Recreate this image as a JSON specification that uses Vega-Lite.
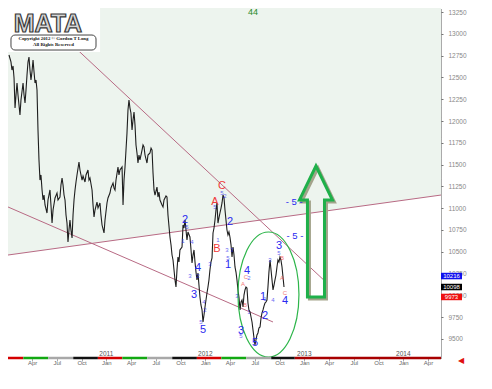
{
"$schema": "https://vega.github.io/schema/vega-lite/v6.json",
"width": 433, "height": 350,
"autosize": {"type": "none"},
"padding": {"left": 8, "top": 8, "right": 51, "bottom": 31},
"background": "#ffffff",
"config": {"view": {"stroke": null}, "font": "Liberation Sans"},
"resolve": {"scale": {"color": "independent", "stroke": "independent", "fill": "independent", "size": "independent", "opacity": "independent"}},
"datasets": {
"price": [
{"year":2010.017,"value":12757},{"year":2010.037,"value":12677},{"year":2010.047,"value":12585},{"year":2010.058,"value":12631},{"year":2010.068,"value":12493},{"year":2010.078,"value":12149},{"year":2010.088,"value":12298},{"year":2010.098,"value":12436},{"year":2010.108,"value":12298},{"year":2010.118,"value":12183},{"year":2010.128,"value":12069},{"year":2010.138,"value":12241},{"year":2010.148,"value":12333},{"year":2010.159,"value":12436},{"year":2010.169,"value":12298},{"year":2010.179,"value":12206},{"year":2010.189,"value":12356},{"year":2010.199,"value":12528},{"year":2010.209,"value":12677},{"year":2010.219,"value":12734},{"year":2010.229,"value":12585},{"year":2010.239,"value":12470},{"year":2010.249,"value":12562},{"year":2010.260,"value":12700},{"year":2010.270,"value":12562},{"year":2010.280,"value":12436},{"year":2010.290,"value":12470},{"year":2010.300,"value":12356},{"year":2010.310,"value":11897},{"year":2010.320,"value":11553},{"year":2010.330,"value":11323},{"year":2010.340,"value":11381},{"year":2010.351,"value":11209},{"year":2010.361,"value":11094},{"year":2010.371,"value":11151},{"year":2010.381,"value":11037},{"year":2010.401,"value":10945},{"year":2010.411,"value":11094},{"year":2010.431,"value":11209},{"year":2010.441,"value":11037},{"year":2010.452,"value":10830},{"year":2010.462,"value":10979},{"year":2010.482,"value":11117},{"year":2010.502,"value":11174},{"year":2010.512,"value":11094},{"year":2010.532,"value":11128},{"year":2010.542,"value":11266},{"year":2010.553,"value":11346},{"year":2010.563,"value":11266},{"year":2010.573,"value":11151},{"year":2010.583,"value":11094},{"year":2010.593,"value":10922},{"year":2010.603,"value":10830},{"year":2010.613,"value":10612},{"year":2010.623,"value":10750},{"year":2010.633,"value":10865},{"year":2010.643,"value":10750},{"year":2010.654,"value":10658},{"year":2010.664,"value":10922},{"year":2010.674,"value":11094},{"year":2010.684,"value":11209},{"year":2010.694,"value":11300},{"year":2010.704,"value":11381},{"year":2010.724,"value":11530},{"year":2010.734,"value":11438},{"year":2010.755,"value":11323},{"year":2010.765,"value":11369},{"year":2010.785,"value":11300},{"year":2010.795,"value":11381},{"year":2010.815,"value":11438},{"year":2010.825,"value":11323},{"year":2010.835,"value":11346},{"year":2010.856,"value":11209},{"year":2010.866,"value":11037},{"year":2010.876,"value":10899},{"year":2010.886,"value":10979},{"year":2010.906,"value":11071},{"year":2010.916,"value":11002},{"year":2010.936,"value":11060},{"year":2010.946,"value":10922},{"year":2010.957,"value":10807},{"year":2010.977,"value":10716},{"year":2010.987,"value":10865},{"year":2011.007,"value":11060},{"year":2011.017,"value":11117},{"year":2011.037,"value":11174},{"year":2011.047,"value":11232},{"year":2011.068,"value":11289},{"year":2011.078,"value":11232},{"year":2011.088,"value":11209},{"year":2011.098,"value":11323},{"year":2011.118,"value":11472},{"year":2011.128,"value":11381},{"year":2011.138,"value":11438},{"year":2011.159,"value":11472},{"year":2011.169,"value":11037},{"year":2011.179,"value":11323},{"year":2011.189,"value":11472},{"year":2011.199,"value":11667},{"year":2011.209,"value":11862},{"year":2011.219,"value":12126},{"year":2011.229,"value":12241},{"year":2011.239,"value":12149},{"year":2011.249,"value":12092},{"year":2011.260,"value":11897},{"year":2011.270,"value":12011},{"year":2011.280,"value":12103},{"year":2011.290,"value":11954},{"year":2011.300,"value":11725},{"year":2011.310,"value":11633},{"year":2011.320,"value":11518},{"year":2011.330,"value":11610},{"year":2011.340,"value":11553},{"year":2011.361,"value":11667},{"year":2011.371,"value":11725},{"year":2011.381,"value":11702},{"year":2011.391,"value":11610},{"year":2011.411,"value":11518},{"year":2011.421,"value":11610},{"year":2011.441,"value":11633},{"year":2011.452,"value":11690},{"year":2011.462,"value":11667},{"year":2011.472,"value":11404},{"year":2011.482,"value":11209},{"year":2011.492,"value":11151},{"year":2011.512,"value":11243},{"year":2011.522,"value":11128},{"year":2011.532,"value":11186},{"year":2011.542,"value":11094},{"year":2011.563,"value":11037},{"year":2011.573,"value":11014},{"year":2011.583,"value":11094},{"year":2011.603,"value":11140},{"year":2011.613,"value":11128},{"year":2011.623,"value":10922},{"year":2011.643,"value":10670},{"year":2011.654,"value":10578},{"year":2011.664,"value":10463},{"year":2011.674,"value":10406},{"year":2011.684,"value":10291},{"year":2011.694,"value":10177},{"year":2011.704,"value":10096},{"year":2011.714,"value":10291},{"year":2011.724,"value":10440},{"year":2011.734,"value":10383},{"year":2011.744,"value":10521},{"year":2011.765,"value":10555},{"year":2011.775,"value":10807},{"year":2011.785,"value":10773},{"year":2011.795,"value":10865},{"year":2011.805,"value":10750},{"year":2011.815,"value":10635},{"year":2011.825,"value":10727},{"year":2011.845,"value":10670},{"year":2011.856,"value":10521},{"year":2011.866,"value":10372},{"year":2011.876,"value":10463},{"year":2011.886,"value":10521},{"year":2011.896,"value":10383},{"year":2011.906,"value":10268},{"year":2011.916,"value":10177},{"year":2011.926,"value":10257},{"year":2011.936,"value":10119},{"year":2011.946,"value":9982},{"year":2011.956,"value":9890},{"year":2011.967,"value":9833},{"year":2011.977,"value":9695},{"year":2011.987,"value":9775},{"year":2011.997,"value":9867},{"year":2012.007,"value":9947},{"year":2012.017,"value":10027},{"year":2012.027,"value":10096},{"year":2012.037,"value":10177},{"year":2012.047,"value":10291},{"year":2012.057,"value":10383},{"year":2012.068,"value":10429},{"year":2012.078,"value":10716},{"year":2012.088,"value":10773},{"year":2012.098,"value":10865},{"year":2012.108,"value":10979},{"year":2012.118,"value":11060},{"year":2012.128,"value":10830},{"year":2012.138,"value":10888},{"year":2012.148,"value":10945},{"year":2012.159,"value":11002},{"year":2012.169,"value":11060},{"year":2012.179,"value":11151},{"year":2012.189,"value":11117},{"year":2012.199,"value":10979},{"year":2012.209,"value":10865},{"year":2012.219,"value":10750},{"year":2012.229,"value":10693},{"year":2012.239,"value":10727},{"year":2012.249,"value":10670},{"year":2012.260,"value":10578},{"year":2012.270,"value":10440},{"year":2012.280,"value":10555},{"year":2012.290,"value":10463},{"year":2012.300,"value":10326},{"year":2012.310,"value":10268},{"year":2012.320,"value":10177},{"year":2012.330,"value":10062},{"year":2012.340,"value":9982},{"year":2012.351,"value":9833},{"year":2012.361,"value":9924},{"year":2012.371,"value":9947},{"year":2012.381,"value":9867},{"year":2012.391,"value":10004},{"year":2012.401,"value":10062},{"year":2012.411,"value":10096},{"year":2012.421,"value":10085},{"year":2012.431,"value":9913},{"year":2012.441,"value":9833},{"year":2012.452,"value":9810},{"year":2012.462,"value":9752},{"year":2012.472,"value":9695},{"year":2012.482,"value":9603},{"year":2012.492,"value":9511},{"year":2012.502,"value":9431},{"year":2012.512,"value":9489},{"year":2012.522,"value":9546},{"year":2012.532,"value":9569},{"year":2012.542,"value":9626},{"year":2012.553,"value":9638},{"year":2012.563,"value":9741},{"year":2012.573,"value":9798},{"year":2012.583,"value":9833},{"year":2012.593,"value":9878},{"year":2012.603,"value":9913},{"year":2012.613,"value":9924},{"year":2012.623,"value":9947},{"year":2012.633,"value":10096},{"year":2012.643,"value":10268},{"year":2012.654,"value":10406},{"year":2012.664,"value":10291},{"year":2012.674,"value":10177},{"year":2012.684,"value":10062},{"year":2012.694,"value":10119},{"year":2012.704,"value":10177},{"year":2012.714,"value":10234},{"year":2012.724,"value":10326},{"year":2012.734,"value":10406},{"year":2012.744,"value":10383},{"year":2012.754,"value":10440},{"year":2012.764,"value":10406},{"year":2012.775,"value":10326},{"year":2012.785,"value":10211},{"year":2012.795,"value":10096}
],
"lines": [
{"line":"resistance","year":2010.532,"value":13004},{"line":"resistance","year":2013.229,"value":10142},
{"line":"support","year":2010.007,"value":11014},{"line":"support","year":2012.684,"value":9695},
{"line":"rising","year":2010.007,"value":10463},{"line":"rising","year":2014.381,"value":11151}
],
"shade": [{"year":2010.007,"value":10463},{"year":2014.381,"value":11151}],
"waves": [
{"year":2011.795,"value":10865,"label":"2","series":"impulse","degree":"major"},
{"year":2011.926,"value":10314,"label":"4","series":"impulse","degree":"major"},
{"year":2011.886,"value":10004,"label":"3","series":"impulse","degree":"major"},
{"year":2011.977,"value":9603,"label":"5","series":"impulse","degree":"major"},
{"year":2012.249,"value":10842,"label":"2","series":"impulse","degree":"major"},
{"year":2012.229,"value":10349,"label":"1","series":"impulse","degree":"major"},
{"year":2012.421,"value":10280,"label":"4","series":"impulse","degree":"major"},
{"year":2012.583,"value":9982,"label":"1","series":"impulse","degree":"major"},
{"year":2012.603,"value":9764,"label":"2","series":"impulse","degree":"major"},
{"year":2012.744,"value":10566,"label":"3","series":"impulse","degree":"major"},
{"year":2012.805,"value":9936,"label":"4","series":"impulse","degree":"major"},
{"year":2012.361,"value":9592,"label":"3","series":"impulse","degree":"major"},
{"year":2012.502,"value":9458,"label":"5","series":"impulse","degree":"major"},
{"year":2012.169,"value":11254,"label":"C","series":"corrective","degree":"major"},
{"year":2012.098,"value":11071,"label":"A","series":"corrective","degree":"major"},
{"year":2012.118,"value":10532,"label":"B","series":"corrective","degree":"major"},
{"year":2012.098,"value":11014,"label":"5","series":"impulse","degree":"minor"},
{"year":2012.169,"value":11174,"label":"5","series":"impulse","degree":"minor"},
{"year":2012.199,"value":11140,"label":"2","series":"impulse","degree":"minor"},
{"year":2011.815,"value":10784,"label":"5","series":"impulse","degree":"minor"},
{"year":2011.775,"value":10624,"label":"1","series":"impulse","degree":"minor"},
{"year":2011.866,"value":10612,"label":"4","series":"impulse","degree":"minor"},
{"year":2012.047,"value":10360,"label":"3","series":"impulse","degree":"minor"},
{"year":2011.845,"value":10222,"label":"3","series":"impulse","degree":"minor"},
{"year":2011.926,"value":10222,"label":"2","series":"impulse","degree":"minor"},
{"year":2011.987,"value":9924,"label":"4","series":"impulse","degree":"minor"},
{"year":2011.997,"value":9833,"label":"2","series":"impulse","degree":"minor"},
{"year":2011.956,"value":9695,"label":"5","series":"impulse","degree":"minor"},
{"year":2012.128,"value":10635,"label":"1","series":"impulse","degree":"minor"},
{"year":2012.219,"value":10521,"label":"3","series":"impulse","degree":"minor"},
{"year":2012.270,"value":10521,"label":"3","series":"impulse","degree":"minor"},
{"year":2012.229,"value":10429,"label":"5","series":"impulse","degree":"minor"},
{"year":2012.320,"value":9993,"label":"3","series":"impulse","degree":"minor"},
{"year":2012.441,"value":9810,"label":"1","series":"impulse","degree":"minor"},
{"year":2012.361,"value":9534,"label":"5","series":"impulse","degree":"minor"},
{"year":2012.441,"value":10200,"label":"2","series":"impulse","degree":"minor"},
{"year":2012.654,"value":10406,"label":"3","series":"impulse","degree":"minor"},
{"year":2012.603,"value":9959,"label":"1","series":"impulse","degree":"minor"},
{"year":2012.684,"value":9947,"label":"4","series":"impulse","degree":"minor"},
{"year":2012.744,"value":10486,"label":"5","series":"impulse","degree":"minor"},
{"year":2012.411,"value":10211,"label":"C","series":"corrective","degree":"minor"},
{"year":2012.381,"value":10131,"label":"A","series":"corrective","degree":"minor"},
{"year":2012.401,"value":9890,"label":"B","series":"corrective","degree":"minor"},
{"year":2012.775,"value":10429,"label":"B","series":"corrective","degree":"minor"},
{"year":2012.775,"value":10200,"label":"A","series":"corrective","degree":"minor"},
{"year":2012.805,"value":10027,"label":"C","series":"corrective","degree":"minor"}
],
"targets": [{"year":2012.897,"value":11071,"label":"- 5 -"},{"year":2012.905,"value":10681,"label":"- 5 -"}],
"seasons": [
{"season":"winter","year":2010.007,"year2":2010.162,"value":9282},{"season":"spring","year":2010.162,"year2":2010.414,"value":9282},{"season":"summer","year":2010.414,"year2":2010.666,"value":9282},{"season":"autumn","year":2010.666,"year2":2010.915,"value":9282},
{"season":"winter","year":2010.915,"year2":2011.162,"value":9282},{"season":"spring","year":2011.162,"year2":2011.414,"value":9282},{"season":"summer","year":2011.414,"year2":2011.666,"value":9282},{"season":"autumn","year":2011.666,"year2":2011.915,"value":9282},
{"season":"winter","year":2011.915,"year2":2012.162,"value":9282},{"season":"spring","year":2012.162,"year2":2012.414,"value":9282},{"season":"summer","year":2012.414,"year2":2012.666,"value":9282},{"season":"autumn","year":2012.666,"year2":2012.904,"value":9282},
{"season":"future","year":2012.904,"year2":2014.381,"value":9282}
],
"years": [{"year":2011,"value":9328,"label":"2011"},{"year":2012,"value":9328,"label":"2012"},{"year":2013,"value":9328,"label":"2013"},{"year":2014,"value":9328,"label":"2014"}],
"tags": [{"tag":"high","year":2014.487,"value":10222,"label":"10216"},{"tag":"last","year":2014.487,"value":10096,"label":"10098"},{"tag":"low","year":2014.487,"value":9982,"label":"9973"}],
"logo": [{"year":2010.007,"year2":2010.937,"value":13296,"value2":12791}],
"badge": [{"year":2010.037,"year2":2010.896,"value":12986,"value2":12814}],
"notes": [
{"note":"brand","year":2010.41,"value":13112,"label":"MATA"},
{"note":"copyright","year":2010.466,"value":12940,"label":"Copyright 2012 © Gordon T Long"},
{"note":"copyright","year":2010.466,"value":12871,"label":"All Rights Reserved"},
{"note":"count","year":2012.482,"value":13250,"label":"44"},
{"note":"arrow","year":2014.588,"value":9250,"label":"◀"}
]
},
"encoding": {
"x": {"field": "year", "type": "quantitative", "scale": {"domain": [2010.007, 2014.381], "nice": false, "zero": false},
 "axis": {"title": null, "values": [2010.25,2010.5,2010.75,2011,2011.25,2011.5,2011.75,2012,2012.25,2012.5,2012.75,2013,2013.25,2013.5,2013.75,2014,2014.25],
  "labelExpr": "datum.value % 1 < 0.1 ? 'Jan' : datum.value % 1 < 0.3 ? 'Apr' : datum.value % 1 < 0.6 ? 'Jul' : 'Oct'",
  "domain": false, "grid": false, "tickSize": 3, "tickColor": "#aaaaaa", "labelFontSize": 6, "labelColor": "#666666", "labelPadding": 1, "labelBaseline": "middle", "labelFlush": false, "labelOverlap": false}},
"y": {"field": "value", "type": "quantitative", "scale": {"domain": [9282, 13296], "nice": false, "zero": false},
 "axis": {"title": null, "orient": "right", "values": [9500,9750,10000,10250,10500,10750,11000,11250,11500,11750,12000,12250,12500,12750,13000,13250],
  "format": "d", "grid": false, "domainColor": "#555555", "domainDash": [1,1], "tickSize": 2, "tickColor": "#777777", "labelFontSize": 6.5, "labelColor": "#888888", "labelPadding": 5}}
},
"layer": [
{"data": {"name": "shade"}, "mark": {"type": "area", "color": "#edf4ee"}, "encoding": {"y2": {"datum": 13296}}},
{"data": {"name": "lines"}, "mark": {"type": "line", "color": "#b86a84", "strokeWidth": 1}, "encoding": {"detail": {"field": "line"}}},
{"data": {"name": "price"}, "mark": {"type": "line", "color": "#1e1e1e", "strokeWidth": 1.1}},
{"data": {"values": [{"year": 2012.638, "value": 10010}]}, "mark": {"type": "point", "shape": "M0,-1C0.2695,-1 0.488,-0.5523 0.488,0C0.488,0.5523 0.2695,1 0,1C-0.2695,1 -0.488,0.5523 -0.488,0C-0.488,-0.5523 -0.2695,-1 0,-1Z", "size": 15625, "filled": false, "color": "#2db54a", "strokeWidth": 1.2, "opacity": 1}},
{"data": {"values": [{"year": 2013.138, "value": 10710}]}, "mark": {"type": "point", "shape": "M0,-1L0.252,-0.481L0.13,-0.481L0.13,1L-0.13,1L-0.13,-0.481L-0.252,-0.481Z", "size": 17161, "filled": false, "color": "#a3a38a", "strokeWidth": 3, "opacity": 1}},
{"data": {"values": [{"year": 2013.118, "value": 10733}]}, "mark": {"type": "point", "shape": "M0,-1L0.252,-0.481L0.13,-0.481L0.13,1L-0.13,1L-0.13,-0.481L-0.252,-0.481Z", "size": 17161, "filled": false, "color": "#1fb04a", "strokeWidth": 3, "opacity": 1}},
{"data": {"name": "waves"}, "mark": {"type": "text", "baseline": "middle", "align": "center"},
 "encoding": {"text": {"field": "label"},
  "color": {"field": "series", "scale": {"domain": ["impulse", "corrective"], "range": ["#2a2af0", "#f03a3a"]}, "legend": null},
  "size": {"field": "degree", "scale": {"domain": ["major", "minor"], "range": [11, 6]}, "legend": null},
  "opacity": {"field": "degree", "scale": {"domain": ["major", "minor"], "range": [1, 0.7]}, "legend": null}}},
{"data": {"name": "targets"}, "mark": {"type": "text", "baseline": "middle", "align": "center", "fontSize": 9.5, "color": "#2a2af0"}, "encoding": {"text": {"field": "label"}}},
{"data": {"name": "logo"}, "mark": {"type": "rect", "color": "#ffffff"},
 "encoding": {"x2": {"field": "year2"}, "y2": {"field": "value2"}}},
{"data": {"name": "notes"}, "transform": [{"filter": "datum.note == 'brand'"}], "mark": {"type": "text", "fontSize": 25, "fontWeight": "bold", "fill": "#d6d6d6", "stroke": "#3a3a3a", "strokeWidth": 1.2, "baseline": "middle", "align": "center"},
 "encoding": {"text": {"field": "label"}}},
{"data": {"name": "badge"}, "mark": {"type": "rect", "fill": "#ffffff", "stroke": "#444444", "strokeWidth": 1, "cornerRadius": 4},
 "encoding": {"x2": {"field": "year2"}, "y2": {"field": "value2"}}},
{"data": {"name": "notes"}, "transform": [{"filter": "datum.note == 'copyright'"}], "mark": {"type": "text", "font": "Liberation Serif", "fontSize": 4.8, "fontWeight": "bold", "color": "#111111", "baseline": "middle", "align": "center"},
 "encoding": {"text": {"field": "label"}}},
{"data": {"name": "notes"}, "transform": [{"filter": "datum.note == 'count'"}], "mark": {"type": "text", "fontSize": 9, "color": "#2a8a2a", "baseline": "middle", "align": "center"},
 "encoding": {"text": {"field": "label"}}},
{"data": {"name": "seasons"}, "mark": {"type": "rule", "strokeWidth": 2.5},
 "encoding": {"x2": {"field": "year2"},
  "stroke": {"field": "season", "scale": {"domain": ["winter", "spring", "summer", "autumn", "future"], "range": ["#d40000", "#12a812", "#a8a8a8", "#111111", "#a80000"]}, "legend": null}}},
{"data": {"name": "years"}, "mark": {"type": "text", "fontSize": 6.5, "color": "#555555", "baseline": "middle", "align": "center"},
 "encoding": {"text": {"field": "label"}}},
{"data": {"name": "tags"}, "mark": {"type": "point", "shape": "M-1,-0.31L1,-0.31L1,0.31L-1,0.31Z", "size": 441, "filled": true, "opacity": 1},
 "encoding": {"fill": {"field": "tag", "scale": {"domain": ["high", "last", "low"], "range": ["#1010ee", "#000000", "#ee1010"]}, "legend": null}}},
{"data": {"name": "tags"}, "mark": {"type": "text", "fontSize": 6, "color": "#ffffff", "align": "center", "baseline": "middle"},
 "encoding": {"text": {"field": "label"}}},
{"data": {"name": "notes"}, "transform": [{"filter": "datum.note == 'arrow'"}], "mark": {"type": "text", "fontSize": 8, "color": "#e01010", "baseline": "middle", "align": "center"},
 "encoding": {"text": {"field": "label"}}}
]
}
